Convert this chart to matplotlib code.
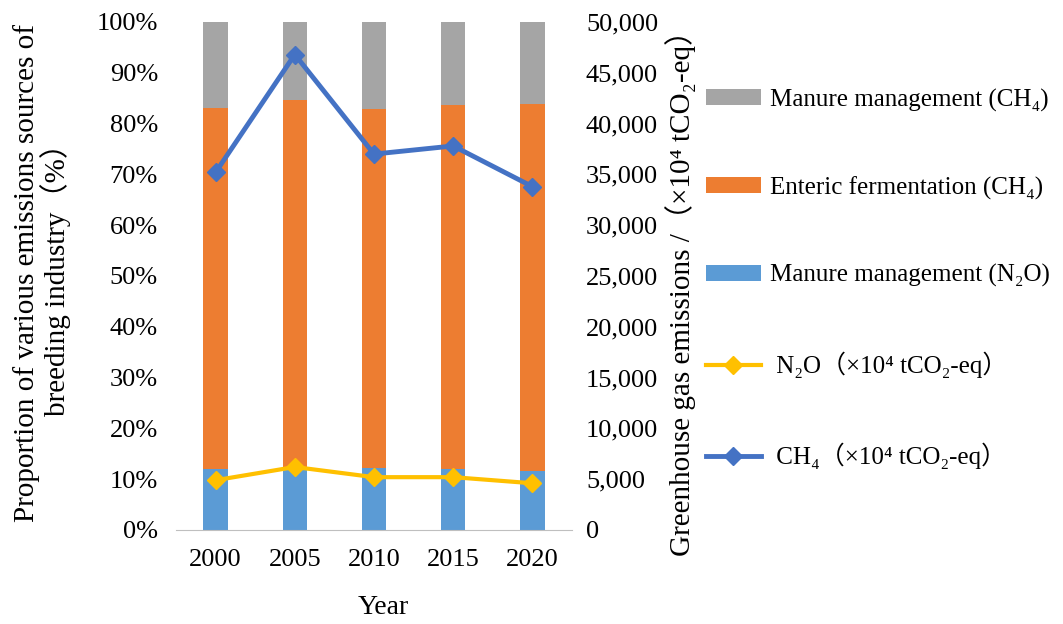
import matplotlib.pyplot as plt
import numpy as np

# data
years = ['2000', '2005', '2010', '2015', '2020']
share_n2o_manure = [12.0, 12.4, 12.3, 12.0, 11.6]      # % (blue)
share_enteric = [71.1, 72.2, 70.5, 71.6, 72.3]        # % (orange)
share_ch4_manure = [16.9, 15.4, 17.2, 16.4, 16.1]     # % (gray)
ch4_emissions = [35200, 46800, 37000, 37800, 33800]   # x10^4 tCO2-eq
n2o_emissions = [4900, 6200, 5200, 5200, 4600]        # x10^4 tCO2-eq

plt.rcParams['font.family'] = ['Liberation Serif', 'Noto Sans CJK SC', 'DejaVu Sans']

W, H = 1063, 624
fig = plt.figure(figsize=(W / 100, H / 100), dpi=100)
ax = fig.add_axes([176 / W, 1 - 530 / H, 396 / W, 508 / H])
x = np.arange(len(years))
w = 0.31

b1 = ax.bar(x, share_n2o_manure, w, color='#5B9BD5', label='Manure management (N₂O)')
b2 = ax.bar(x, share_enteric, w, bottom=share_n2o_manure, color='#ED7D31',
            label='Enteric fermentation (CH₄)')
bottom2 = np.array(share_n2o_manure) + np.array(share_enteric)
b3 = ax.bar(x, share_ch4_manure, w, bottom=bottom2, color='#A5A5A5',
            label='Manure management (CH₄)')

ax.set_xlim(-0.5, 4.5)
ax.set_ylim(0, 100)
ax.set_yticks(np.arange(0, 101, 10))
ax.set_yticklabels([f'{v}%' for v in range(0, 101, 10)])
ax.set_xticks(x)
ax.set_xticklabels(years)
for s in ['top', 'right', 'left']:
    ax.spines[s].set_visible(False)
ax.spines['bottom'].set_color('#BFBFBF')
ax.tick_params(axis='y', length=0, labelsize=19, pad=13)
ax.tick_params(axis='x', length=0, labelsize=19, pad=14)
fig.text(383 / W, 1 - 608 / H, 'Year', fontsize=20, ha='center', va='center')
fig.text(42 / W, 1 - 273 / H,
         'Proportion of various emissions sources of\nbreeding industry（%）',
         fontsize=21, rotation=90, ha='center', va='center', linespacing=1.0)

ax2 = ax.twinx()
l1, = ax2.plot(x, n2o_emissions, color='#FFC000', lw=3, marker='D', markersize=9,
               label=' N₂O（×10⁴ tCO₂-eq）')
l2, = ax2.plot(x, ch4_emissions, color='#4472C4', lw=3.5, marker='D', markersize=9,
               label=' CH₄（×10⁴ tCO₂-eq）')
ax2.set_ylim(0, 50000)
ax2.set_yticks(np.arange(0, 50001, 5000))
ax2.set_yticklabels([f'{v:,}' for v in range(0, 50001, 5000)])
for s in ['top', 'right', 'left', 'bottom']:
    ax2.spines[s].set_visible(False)
ax2.tick_params(axis='y', length=0, labelsize=19, pad=10)
fig.text(681 / W, 1 - 286 / H, 'Greenhouse gas emissions /（×10⁴ tCO₂-eq）',
         fontsize=21, rotation=90, ha='center', va='center')

fig.legend([b3, b2, b1, l1, l2],
           [h.get_label() for h in [b3, b2, b1, l1, l2]],
           loc='upper left', bbox_to_anchor=(683 / W, 1 - 66 / H), frameon=False,
           fontsize=18, labelspacing=2.58, handlelength=2.2, handleheight=0.6,
           handletextpad=0.4)

fig.savefig('out.png', dpi=100)
